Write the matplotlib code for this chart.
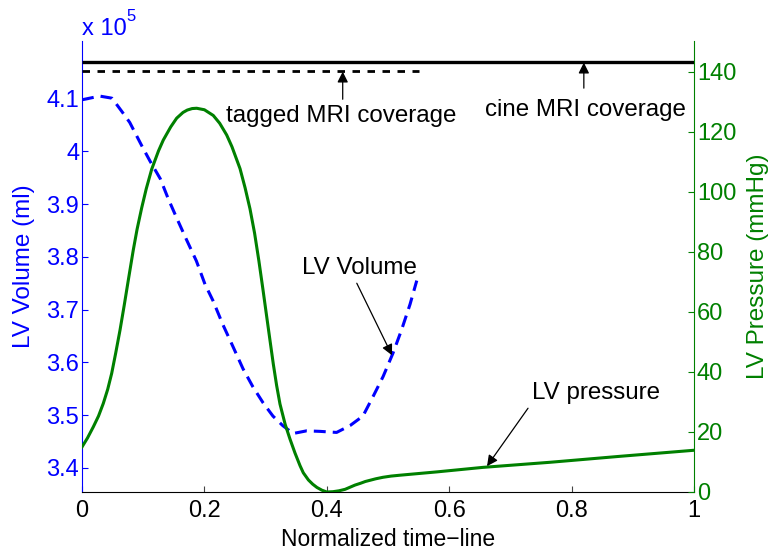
import matplotlib
matplotlib.use("Agg")
import matplotlib.pyplot as plt

plt.rcParams['font.family'] = ['Liberation Sans', 'DejaVu Sans']

# ---- data ----
t_vol = [0, 0.029, 0.049, 0.065, 0.078, 0.098, 0.111, 0.128, 0.141, 0.155, 0.171,
         0.187, 0.201, 0.214, 0.230, 0.247, 0.263, 0.279, 0.296, 0.312, 0.328, 0.345,
         0.367, 0.389, 0.416, 0.438, 0.459, 0.476, 0.492, 0.508, 0.522, 0.536, 0.547]
vol = [4.098, 4.105, 4.101, 4.076, 4.055, 4.010, 3.982, 3.948, 3.910, 3.873, 3.832,
       3.792, 3.748, 3.717, 3.672, 3.629, 3.588, 3.554, 3.523, 3.498, 3.480, 3.465,
       3.470, 3.469, 3.467, 3.480, 3.498, 3.536, 3.573, 3.617, 3.661, 3.710, 3.755]  # x 10^5 ml

t_p = [0, 0.009, 0.0185, 0.027, 0.0348, 0.042, 0.0485, 0.055, 0.0621, 0.069, 0.0757,
       0.0838, 0.090, 0.0975, 0.105, 0.1139, 0.125, 0.1328, 0.145, 0.1547, 0.165,
       0.172, 0.180, 0.1874, 0.200, 0.2145, 0.225, 0.2364, 0.245, 0.2582, 0.2665,
       0.2745, 0.282, 0.289, 0.2955, 0.3018, 0.308, 0.3126, 0.318, 0.3235, 0.332,
       0.3399, 0.348, 0.3562, 0.3616, 0.370, 0.377, 0.384, 0.392, 0.40, 0.41, 0.42,
       0.43, 0.438, 0.446, 0.455, 0.463, 0.4706, 0.48, 0.4918, 0.505, 0.52, 0.58,
       0.655, 0.765, 0.88, 1.0]
pres = [15.0, 18.0, 21.7, 25.3, 29.5, 34.2, 39.5, 46.2, 53.9, 62.2, 70.6,
        80.6, 87.5, 94.6, 101.0, 107.5, 113.6, 117.2, 121.6, 124.5, 126.4,
        127.2, 127.7, 127.8, 127.3, 125.4, 122.8, 118.9, 115.0, 107.7, 101.3,
        94.3, 86.2, 77.0, 67.7, 58.4, 49.3, 42.6, 35.5, 29.3, 22.5,
        17.6, 13.0, 8.8, 6.4, 4.0, 2.6, 1.5, 0.6, 0.0, 0.1, 0.4,
        0.9, 1.6, 2.3, 2.9, 3.5, 3.9, 4.4, 4.9, 5.3, 5.6, 6.7,
        8.2, 9.9, 11.9, 13.9]

cine_span = [0, 1]
tagged_span = [0, 0.55]
cine_level = 143.3
tagged_level = 140.3

vol_ticks = [3.4, 3.5, 3.6, 3.7, 3.8, 3.9, 4.0, 4.1]
vol_ticklabels = ['3.4', '3.5', '3.6', '3.7', '3.8', '3.9', '4', '4.1']
p_ticks = [0, 20, 40, 60, 80, 100, 120, 140]
x_ticks = [0, 0.2, 0.4, 0.6, 0.8, 1]
x_ticklabels = ['0', '0.2', '0.4', '0.6', '0.8', '1']

BLUE = '#0000FF'
GREEN = '#008000'
FS = 17
AFS = 17.4

W, H = 768, 555
fig = plt.figure(figsize=(W / 100, H / 100), dpi=100)
L, R, T, B = 82, 694, 41, 492
ax = fig.add_axes([L / W, 1 - B / H, (R - L) / W, (B - T) / H])
ax2 = ax.twinx()

ax.set_xlim(0, 1)
ax.set_ylim(3.354, 4.2095)
ax2.set_ylim(0, 150.2)

ax.plot(t_vol, vol, color=BLUE, lw=2.2, linestyle=(0, (3.9, 2.3)))
ax2.plot(t_p, pres, color=GREEN, lw=2.2, solid_joinstyle='round')
ax2.plot(cine_span, [cine_level] * 2, color='k', lw=2.4, solid_capstyle='butt')
ax2.plot(tagged_span, [tagged_level] * 2, color='k', lw=2.0, linestyle=(0, (2.7, 2.7)))

# spines
for a in (ax, ax2):
    a.spines['top'].set_visible(False)
ax.spines['right'].set_visible(False)
ax2.spines['left'].set_visible(False)
ax2.spines['bottom'].set_visible(False)
ax.spines['left'].set_color(BLUE)
ax2.spines['right'].set_color(GREEN)
ax.spines['bottom'].set_color('k')

ax.set_xticks(x_ticks)
ax.set_xticklabels(x_ticklabels)
ax.set_yticks(vol_ticks)
ax.set_yticklabels(vol_ticklabels)
ax2.set_yticks(p_ticks)

ax.tick_params(axis='x', direction='in', length=4.3, labelsize=FS, pad=6, color='#444444')
ax.tick_params(axis='y', direction='in', length=4.3, labelsize=FS, pad=2, colors=BLUE)
ax2.tick_params(axis='y', direction='in', length=4.3, labelsize=FS, pad=2, colors=GREEN)

ax.set_xlabel('Normalized time\u2212line', fontsize=16.5, labelpad=4)
ax.set_ylabel('LV Volume (ml)', fontsize=17.5, color=BLUE, labelpad=8)
ax2.set_ylabel('LV Pressure (mmHg)', fontsize=17.5, color=GREEN, labelpad=8)

# multiplier
fig.text(82 / W, 1 - 35 / H, 'x 10', fontsize=FS, color=BLUE, ha='left', va='baseline')
fig.text(126 / W, 1 - 21 / H, '5', fontsize=12, color=BLUE, ha='left', va='baseline')

arrow = dict(arrowstyle='-|>', color='k', lw=0.9, mutation_scale=16, shrinkA=0, shrinkB=0)

ax2.annotate('', xy=(0.426, 140.0), xytext=(0.426, 130.8), arrowprops=arrow)
ax2.text(0.423, 125.1, 'tagged MRI coverage', fontsize=AFS, ha='center', va='center')

ax2.annotate('', xy=(0.820, 143.0), xytext=(0.820, 134.5), arrowprops=arrow)
ax2.text(0.822, 127.1, 'cine MRI coverage', fontsize=AFS, ha='center', va='center')

ax.annotate('', xy=(0.5065, 3.6134), xytext=(0.449, 3.750), arrowprops=arrow)
ax.text(0.4526, 3.779, 'LV Volume', fontsize=AFS, ha='center', va='center')

ax2.annotate('', xy=(0.6618, 8.6), xytext=(0.7288, 27.9), arrowprops=arrow)
ax2.text(0.840, 32.9, 'LV pressure', fontsize=AFS, ha='center', va='center')

fig.savefig('out.png', dpi=100)
